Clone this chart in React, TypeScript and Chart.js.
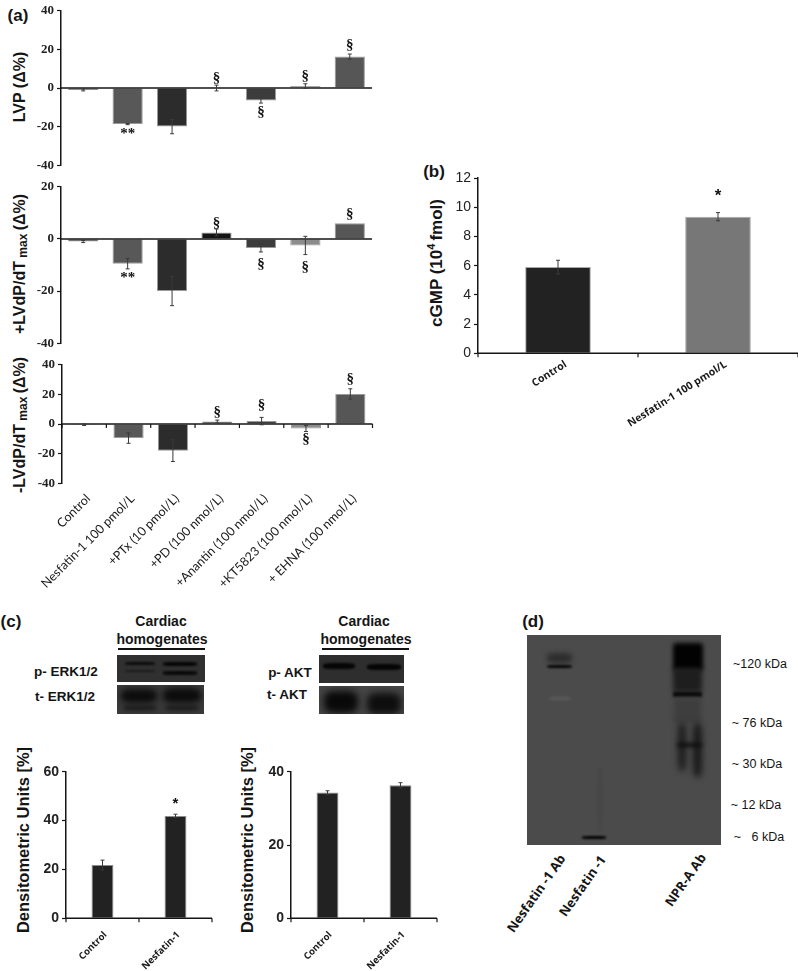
import React, { useEffect, useRef } from "react";
import { Chart, registerables } from "chart.js";

Chart.register(...registerables);

const categories = ["Control", "Nesfatin-1 100 pmol/L", "+PTx (10 pmol/L)", "+PD (100 nmol/L)", "+Anantin (100 nmol/L)", "+KT5823 (100 nmol/L)", "+ EHNA (100 nmol/L)"];
const blankCategories = ["", "", "", "", "", "", ""];
const barShades = ["#202020", "#585858", "#2c2c2c", "#141414", "#3c3c3c", "#8c8c8c", "#565656"];

const lvpValues = [-1, -18.7, -20, 0, -6.5, 1, 16.3];
const lvpErrors = [0.5, 0.3, 3.7, 1.5, 1.3, 1.2, 1.3];
const lvpMarks = [null, "**", null, "§", "§", "§", "§"];
const lvpMarkAt = [0, -24, 0, 5, -12.3, 6, 22];

const plusValues = [-1, -9.5, -20, 2.5, -3.5, -2.5, 6];
const plusErrors = [0.4, 2, 5.6, 1.3, 1.5, 3.5, 0];
const plusMarks = [null, "**", null, "§", "§", "§", "§"];
const plusMarkAt = [0, -15, 0, 6, -9.5, -11, 9.6];

const minusValues = [-0.5, -9.5, -18, 1.7, 2, -3, 20.3];
const minusErrors = [0.5, 3.5, 7.3, 1, 2.5, 2, 3.5];
const minusMarks = [null, null, null, "§", "§", "§", "§"];
const minusMarkAt = [0, 0, 0, 8, 12.5, -10, 30.5];

const cgmpCategories = ["Control", "Nesfatin-1 100 pmol/L"];
const cgmpValues = [5.9, 9.35];
const cgmpErrors = [0.47, 0.28];
const cgmpMarks = [null, "*"];
const cgmpMarkAt = [0, 10.75];

const westernCategories = ["Control", "Nesfatin-1"];
const erkValues = [21.8, 41.9];
const erkErrors = [2, 0.7];
const erkMarks = [null, "*"];
const erkMarkAt = [0, 47];
const aktValues = [34.3, 36.3];
const aktErrors = [0.5, 0.7];

const kdaLabels = ["~120 kDa", "~ 76 kDa", "~ 30 kDa", "~ 12 kDa", "~   6 kDa"];

type PanelProps = {
  box: [number, number, number, number];
  plot: [number, number, number, number];
  labels: string[];
  values: number[];
  errors: number[];
  marks?: (string | null)[];
  markAt?: number[];
  colors: string[];
  edge: string;
  yMin: number;
  yMax: number;
  step: number;
  tickFont: string;
  tickSize: number;
  tickWeight: string;
  tickColor: string;
  showLabels: boolean;
  labelFont?: string;
  labelSize?: number;
  labelWeight?: string;
  labelRotation?: number;
  labelOffset?: number;
  labelPad?: number;
  barFrac: number;
  boundaryTicks: boolean;
  markFont: string;
};

const overlayPlugin = {
  id: "overlay",
  afterDatasetsDraw(chart: any, _a: any, o: any) {
    const { ctx, scales } = chart;
    const { x, y } = scales;
    const zero = y.getPixelForValue(0);
    ctx.save();
    ctx.strokeStyle = "#151515";
    ctx.lineWidth = 1.6;
    ctx.beginPath();
    ctx.moveTo(x.left, zero);
    ctx.lineTo(x.right, zero);
    ctx.stroke();
    if (o.boundaryTicks) {
      const half = (x.getPixelForValue(1) - x.getPixelForValue(0)) / 2;
      ctx.lineWidth = 1.2;
      for (let i = 0; i <= o.values.length; i++) {
        const px = x.getPixelForValue(0) - half + i * 2 * half;
        ctx.beginPath();
        ctx.moveTo(px, zero);
        ctx.lineTo(px, zero + 4);
        ctx.stroke();
      }
    }
    o.values.forEach((v: number, i: number) => {
      const e = o.errors[i];
      if (!e) return;
      const px = x.getPixelForValue(i);
      const a = y.getPixelForValue(v - e);
      const b = y.getPixelForValue(v + e);
      ctx.strokeStyle = "#3a3a3a";
      ctx.lineWidth = 1;
      ctx.beginPath();
      ctx.moveTo(px, a);
      ctx.lineTo(px, b);
      ctx.moveTo(px - 2, a);
      ctx.lineTo(px + 2, a);
      ctx.moveTo(px - 2, b);
      ctx.lineTo(px + 2, b);
      ctx.stroke();
    });
    ctx.fillStyle = "#111";
    ctx.textAlign = "center";
    ctx.textBaseline = "middle";
    ctx.font = o.markFont;
    (o.marks || []).forEach((m: string | null, i: number) => {
      if (m) ctx.fillText(m, x.getPixelForValue(i), y.getPixelForValue(o.markAt[i]));
    });
    ctx.restore();
  },
};

function BarPanel(p: PanelProps) {
  const ref = useRef<HTMLCanvasElement | null>(null);
  const [bl, bt, br, bb] = p.box;
  const [pl, pt, pr, pb] = p.plot;
  useEffect(() => {
    if (!ref.current) return;
    const chart = new Chart(ref.current, {
      type: "bar",
      data: {
        labels: p.labels,
        datasets: [
          {
            data: p.values,
            backgroundColor: p.colors,
            borderColor: p.edge,
            borderWidth: 1,
            categoryPercentage: 1,
            barPercentage: p.barFrac,
          },
        ],
      },
      plugins: [overlayPlugin],
      options: {
        animation: false,
        responsive: false,
        layout: { padding: { left: 0, top: pt - bt, right: br - pr, bottom: 0 } },
        plugins: {
          legend: { display: false },
          tooltip: { enabled: false },
          overlay: {
            values: p.values,
            errors: p.errors,
            marks: p.marks,
            markAt: p.markAt,
            boundaryTicks: p.boundaryTicks,
            markFont: p.markFont,
          },
        } as any,
        scales: {
          x: {
            grid: { display: false, drawTicks: false },
            border: { display: false },
            afterFit(s: any) {
              s.height = bb - pb;
            },
            ticks: {
              display: p.showLabels,
              autoSkip: false,
              minRotation: p.labelRotation ?? 45,
              maxRotation: p.labelRotation ?? 45,
              labelOffset: p.labelOffset ?? 0,
              padding: p.labelPad ?? 3,
              color: "#1a1a1a",
              font: { family: p.labelFont ?? "Lato", size: p.labelSize ?? 12, weight: p.labelWeight ?? "normal" },
            },
          },
          y: {
            min: p.yMin,
            max: p.yMax,
            afterFit(s: any) {
              s.width = pl - bl;
            },
            grid: { color: "transparent", tickColor: "#151515", tickLength: 4, tickWidth: 1.2 },
            border: { color: "#151515", width: 1.5 },
            ticks: {
              stepSize: p.step,
              padding: 3,
              color: p.tickColor,
              font: { family: p.tickFont, size: p.tickSize, weight: p.tickWeight },
            },
          },
        },
      } as any,
    });
    return () => chart.destroy();
  }, []);
  return (
    <canvas
      ref={ref}
      width={br - bl}
      height={bb - bt}
      style={{ position: "absolute", left: bl, top: bt, width: br - bl, height: bb - bt, display: "block" }}
    />
  );
}

const arial = "'Liberation Sans', Arial, sans-serif";

function Txt(props: { x: number; y: number; rot?: number; size: number; bold?: boolean; family?: string; origin?: string; children: React.ReactNode }) {
  const { x, y, rot = 0, size, bold = true, family = arial, origin, children } = props;
  const anchored = origin === "right";
  return (
    <div
      style={{
        position: "absolute",
        left: anchored ? undefined : x,
        right: anchored ? 798 - x : undefined,
        top: y,
        whiteSpace: "pre",
        fontFamily: family,
        fontSize: size,
        fontWeight: bold ? 700 : 400,
        color: "#151515",
        lineHeight: 1,
        transformOrigin: anchored ? "100% 50%" : "50% 50%",
        transform: anchored ? `translateY(-50%) rotate(${rot}deg)` : `translate(-50%,-50%) rotate(${rot}deg)`,
      }}
    >
      {children}
    </div>
  );
}

function Blur(props: { x: number; y: number; w: number; h: number; c: string; b: number; r?: string }) {
  const { x, y, w, h, c, b, r = "30%" } = props;
  return <div style={{ position: "absolute", left: x, top: y, width: w, height: h, background: c, filter: `blur(${b}px)`, borderRadius: r }} />;
}

function Blot(props: { x: number; y: number; w: number; h: number; bg: string; children?: React.ReactNode }) {
  return (
    <div style={{ position: "absolute", left: props.x, top: props.y, width: props.w, height: props.h, background: props.bg, overflow: "hidden" }}>
      {props.children}
    </div>
  );
}

function Dp(props: { x: number; y: number; sign: string }) {
  return (
    <Txt x={props.x} y={props.y} rot={-90} size={16}>
      {props.sign}LVdP/dT<span style={{ fontSize: 12, position: "relative", top: 2 }}> max </span>(Δ%)
    </Txt>
  );
}

export default function App() {
  const panelA = {
    colors: barShades,
    edge: "#9a9a9a",
    step: 20,
    tickFont: "'Liberation Serif', serif",
    tickSize: 13,
    tickWeight: "bold",
    tickColor: "#222",
    barFrac: 0.68,
    markFont: "bold 15px 'Liberation Serif', serif",
  };
  const openSans = "'Open Sans', sans-serif";
  return (
    <div style={{ position: "absolute", left: 0, top: 0, width: 798, height: 971, overflow: "hidden", background: "#fff" }}>
      <Txt x={18} y={15} size={17}>(a)</Txt>
      <Txt x={434} y={171} size={17}>(b)</Txt>
      <Txt x={11} y={621} size={17}>(c)</Txt>
      <Txt x={533} y={621} size={17}>(d)</Txt>

      <Txt x={20} y={87} rot={-90} size={16}>LVP (Δ%)</Txt>
      <Dp x={20} y={264} sign="+" />
      <Dp x={20} y={425} sign="-" />
      <Txt x={436} y={263} rot={-90} size={17}>
        cGMP (10<sup style={{ fontSize: 11, lineHeight: 0 }}>4 </sup>fmol)
      </Txt>
      <Txt x={23} y={840} rot={-90} size={16.5}>Densitometric Units [%]</Txt>
      <Txt x={247} y={840} rot={-90} size={16.5}>Densitometric Units [%]</Txt>

      <BarPanel {...panelA} box={[0, 0, 376, 176]} plot={[61, 6.7, 372, 167]} labels={blankCategories} values={lvpValues} errors={lvpErrors} marks={lvpMarks} markAt={lvpMarkAt} yMin={-40} yMax={40} showLabels={false} boundaryTicks={false} />
      <BarPanel {...panelA} box={[0, 176, 376, 354]} plot={[61, 185, 372, 345.3]} labels={blankCategories} values={plusValues} errors={plusErrors} marks={plusMarks} markAt={plusMarkAt} yMin={-40} yMax={20} showLabels={false} boundaryTicks={false} />
      <BarPanel {...panelA} box={[0, 354, 376, 610]} plot={[62, 363.7, 372.5, 483.3]} labels={categories} values={minusValues} errors={minusErrors} marks={minusMarks} markAt={minusMarkAt} yMin={-40} yMax={40} showLabels={true} labelSize={12.5} labelOffset={4} labelPad={8} boundaryTicks={true} />

      <BarPanel box={[440, 165, 798, 470]} plot={[478, 178, 798, 353.3]} labels={cgmpCategories} values={cgmpValues} errors={cgmpErrors} marks={cgmpMarks} markAt={cgmpMarkAt} colors={["#222222", "#777777"]} edge="#a8a8a8" yMin={0} yMax={12} step={2} tickFont={arial} tickSize={14} tickWeight="normal" tickColor="#222" showLabels={true} labelFont={openSans} labelWeight="bold" labelSize={10.5} labelRotation={32} labelOffset={8} labelPad={5} barFrac={0.41} boundaryTicks={true} markFont="bold 17px 'Liberation Sans', sans-serif" />

      <BarPanel box={[30, 760, 216, 971]} plot={[66, 771.7, 212, 918.3]} labels={westernCategories} values={erkValues} errors={erkErrors} marks={erkMarks} markAt={erkMarkAt} colors={["#222222", "#222222"]} edge="#8c8c8c" yMin={0} yMax={60} step={20} tickFont={arial} tickSize={14} tickWeight="bold" tickColor="#222" showLabels={true} labelFont={openSans} labelWeight="bold" labelSize={9.5} labelOffset={3} labelPad={11} barFrac={0.3} boundaryTicks={true} markFont="bold 15px 'Liberation Sans', sans-serif" />
      <BarPanel box={[255, 760, 441, 971]} plot={[291, 771.7, 437, 918.3]} labels={westernCategories} values={aktValues} errors={aktErrors} colors={["#222222", "#222222"]} edge="#8c8c8c" yMin={0} yMax={40} step={20} tickFont={arial} tickSize={14} tickWeight="bold" tickColor="#222" showLabels={true} labelFont={openSans} labelWeight="bold" labelSize={9.5} labelOffset={3} labelPad={11} barFrac={0.3} boundaryTicks={true} markFont="bold 15px 'Liberation Sans', sans-serif" />

      <Txt x={161} y={621} size={14}>Cardiac</Txt>
      <Txt x={162} y={638.5} size={14}>homogenates</Txt>
      <div style={{ position: "absolute", left: 118, top: 648, width: 87, height: 2, background: "#111" }} />
      <Txt x={364} y={621} size={14}>Cardiac</Txt>
      <Txt x={366} y={638.5} size={14}>homogenates</Txt>
      <div style={{ position: "absolute", left: 322, top: 648, width: 87, height: 2, background: "#111" }} />
      <Txt x={66} y={671.5} size={13.5}>p- ERK1/2</Txt>
      <Txt x={65} y={697} size={13.5}>t- ERK1/2</Txt>
      <Txt x={290} y={673} size={13.5}>p- AKT</Txt>
      <Txt x={287} y={695} size={13.5}>t- AKT</Txt>

      <Blot x={117} y={655} w={88} h={27} bg="#303030">
        <Blur x={8} y={7} w={30} h={2.5} c="#0a0a0a" b={1.2} />
        <Blur x={8} y={15} w={30} h={2} c="#1a1a1a" b={1.2} />
        <Blur x={46} y={7} w={34} h={4} c="#050505" b={1.2} />
        <Blur x={46} y={16} w={34} h={3.5} c="#080808" b={1.2} />
      </Blot>
      <Blot x={117} y={685} w={87} h={29} bg="#3a3a3a">
        <Blur x={4} y={4} w={36} h={14} c="#0c0c0c" b={3} />
        <Blur x={46} y={3} w={38} h={15} c="#0c0c0c" b={3} />
        <Blur x={6} y={21} w={34} h={4} c="#141414" b={2} />
        <Blur x={48} y={21} w={34} h={4} c="#141414" b={2} />
      </Blot>
      <Blot x={319} y={655} w={85} h={27.5} bg="#2e2e2e">
        <Blur x={4} y={8} w={32} h={6} c="#050505" b={1.2} />
        <Blur x={48} y={9} w={34} h={6} c="#050505" b={1.2} />
      </Blot>
      <Blot x={319} y={686} w={85} h={28} bg="#454545">
        <Blur x={5} y={5} w={34} h={22} c="#090909" b={3.5} />
        <Blur x={48} y={7} w={34} h={21} c="#0e0e0e" b={3.5} />
      </Blot>

      <Blot x={527} y={635} w={194} h={210} bg="#4b4b4b">
        <Blur x={20} y={18} w={25} h={10} c="#2d2d2d" b={2.5} />
        <Blur x={20} y={29.5} w={25} h={3.5} c="#060606" b={0.8} />
        <Blur x={22} y={62} w={22} h={2.5} c="#5c5c5c" b={1.5} />
        <Blur x={55} y={200.5} w={24} h={3.5} c="#030303" b={1.2} />
        <Blur x={72} y={132} w={2} h={65} c="#424242" b={1.5} />
        <Blur x={146} y={8} w={30} h={28} c="#020202" b={2} r="12%" />
        <Blur x={146} y={33} w={29} h={24} c="#1e1e1e" b={2.5} r="10%" />
        <Blur x={146} y={57} w={29} h={5} c="#050505" b={1.5} r="10%" />
        <Blur x={147} y={63} w={27} h={25} c="#3e3e3e" b={2.5} r="10%" />
        <Blur x={151} y={88} w={8} h={48} c="#1c1c1c" b={3} />
        <Blur x={166} y={88} w={9} h={54} c="#181818" b={3} />
        <Blur x={150} y={108} w={25} h={4} c="#0c0c0c" b={2} />
      </Blot>

      {kdaLabels.map((t, i) => (
        <Txt key={t} x={[760, 757, 757, 756, 759][i]} y={[664, 723, 763.5, 804.5, 837][i]} size={12.5} bold={false}>
          {t}
        </Txt>
      ))}
      <Txt x={562} y={856} rot={-55} size={13} family={openSans} origin="right">Nesfatin -1 Ab</Txt>
      <Txt x={603} y={857} rot={-55} size={13} family={openSans} origin="right">Nesfatin -1</Txt>
      <Txt x={703} y={855} rot={-55} size={13} family={openSans} origin="right">NPR-A Ab</Txt>
    </div>
  );
}
